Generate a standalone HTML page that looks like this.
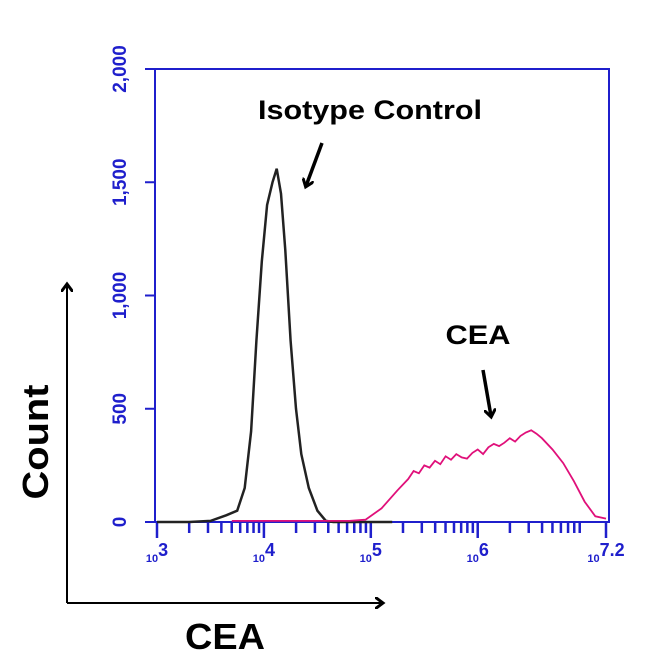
<!DOCTYPE html>
<html><head><meta charset="utf-8"><style>
html,body{margin:0;padding:0;background:#fff;}
svg{display:block;font-family:"Liberation Sans",sans-serif;}
</style></head><body>
<svg id="chart" width="650" height="661" viewBox="0 0 650 661">
<defs><marker id="ah" markerWidth="12" markerHeight="12" refX="7" refY="6" orient="auto" markerUnits="userSpaceOnUse"><path d="M0,0 L8,6 L0,12" fill="none" stroke="#000" stroke-width="3"/></marker></defs>
<rect x="155" y="69" width="454" height="453" fill="none" stroke="#1f1fcc" stroke-width="2"/>
<g id="yticks"></g><g id="xticks"></g>
<path id="iso" fill="none" stroke="#222" stroke-width="2.5"/>
<path id="cea" fill="none" stroke="#e0107a" stroke-width="1.8"/>
<text x="370" y="119" text-anchor="middle" font-size="27" font-weight="bold" textLength="224" lengthAdjust="spacingAndGlyphs">Isotype Control</text>
<line x1="322" y1="143" x2="306" y2="186" stroke="#000" stroke-width="3.5" marker-end="url(#ah)"/>
<text x="478" y="344" text-anchor="middle" font-size="27" font-weight="bold" textLength="65" lengthAdjust="spacingAndGlyphs">CEA</text>
<line x1="483" y1="370" x2="491" y2="416" stroke="#000" stroke-width="3.5" marker-end="url(#ah)"/>
<line x1="67" y1="603" x2="67" y2="285" stroke="#000" stroke-width="2" marker-end="url(#ah)"/>
<line x1="67" y1="603" x2="382" y2="603" stroke="#000" stroke-width="2" marker-end="url(#ah)"/>
<text transform="translate(48,442) rotate(-90)" text-anchor="middle" font-size="36" font-weight="bold" textLength="115" lengthAdjust="spacingAndGlyphs">Count</text>
<text x="225" y="649" text-anchor="middle" font-size="36" font-weight="bold" textLength="80" lengthAdjust="spacingAndGlyphs">CEA</text>
</svg>
<script>
const isoX=[3.0,3.3,3.5,3.65,3.75,3.82,3.88,3.93,3.98,4.03,4.08,4.12,4.16,4.2,4.25,4.3,4.35,4.42,4.5,4.58,4.65,5.2];
const isoY=[0,0,5,30,50,150,400,800,1150,1400,1500,1560,1450,1200,800,500,300,150,50,5,0,0];
const ceaX=[3.7,4.8,4.95,5.1,5.25,5.35,5.4,5.45,5.5,5.55,5.6,5.65,5.7,5.75,5.8,5.85,5.9,5.95,6.0,6.05,6.1,6.15,6.2,6.25,6.3,6.35,6.4,6.45,6.5,6.55,6.6,6.7,6.8,6.9,7.0,7.1,7.2];
const ceaY=[5,5,10,60,140,190,225,215,250,240,270,255,290,275,300,285,280,305,320,300,330,345,335,350,370,355,380,395,405,390,370,320,260,180,90,25,15];
const yTicks=[0,500,1000,1500,2000];
const yTickLabels=["0","500","1,000","1,500","2,000"];
const xDecades=[3,4,5,6];
const xMax=7.2;
const X=v=>157+(v-3)*(606-157)/4.2;
const Y=v=>522-v*(522-69)/2000;
const svg=document.getElementById('chart');
const NS='http://www.w3.org/2000/svg';
function pathOf(xs,ys){return xs.map((x,i)=>(i?'L':'M')+X(x).toFixed(1)+','+Y(ys[i]).toFixed(1)).join(' ');}
document.getElementById('iso').setAttribute('d',pathOf(isoX,isoY));
document.getElementById('cea').setAttribute('d',pathOf(ceaX,ceaY));
const yg=document.getElementById('yticks');
yTicks.forEach((t,i)=>{
 const l=document.createElementNS(NS,'line');
 l.setAttribute('x1',145);l.setAttribute('x2',155);l.setAttribute('y1',Y(t));l.setAttribute('y2',Y(t));
 l.setAttribute('stroke','#1f1fcc');l.setAttribute('stroke-width',2);
 
 
 yg.appendChild(l);
 const tx=document.createElementNS(NS,'text');
 tx.setAttribute('transform','translate(126,'+Y(t)+') rotate(-90)');
 tx.setAttribute('text-anchor','middle');tx.setAttribute('font-size','19');tx.setAttribute('font-weight','bold');tx.setAttribute('fill','#1f1fcc');
 tx.textContent=yTickLabels[i];
 
 
 yg.appendChild(tx);
});
const xg=document.getElementById('xticks');
function xt(v,len){const l=document.createElementNS(NS,'line');
 l.setAttribute('x1',X(v));l.setAttribute('x2',X(v));l.setAttribute('y1',522);l.setAttribute('y2',522+len);
 l.setAttribute('stroke','#1f1fcc');l.setAttribute('stroke-width',2.5);
 
 
 xg.appendChild(l);}
xDecades.forEach(d=>{xt(d,16);for(let k=2;k<=9;k++){const v=d+Math.log10(k);if(v<=xMax)xt(v,11);}});
xt(xMax,16);
function xl(v,exp){const tx=document.createElementNS(NS,'text');
 tx.setAttribute('x',X(v));tx.setAttribute('y',562);tx.setAttribute('text-anchor','middle');tx.setAttribute('fill','#1f1fcc');
 tx.setAttribute('font-size','11');tx.setAttribute('font-weight','bold');
 tx.innerHTML='10<tspan font-size="18" dy="-6">'+exp+'</tspan>';
 
 
 xg.appendChild(tx);}
xDecades.forEach(d=>xl(d,d));xl(xMax,'7.2');
</script>
</body></html>
